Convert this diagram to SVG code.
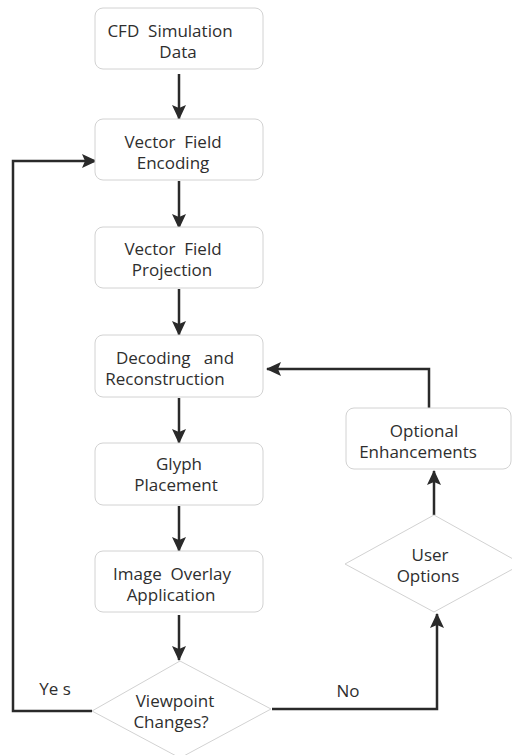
<svg xmlns="http://www.w3.org/2000/svg" width="512" height="755" viewBox="0 0 512 755">
  <style>
    .box { fill: #ffffff; stroke: #d2d2d2; stroke-width: 1; }
    .dia { fill: #ffffff; stroke: #d2d2d2; stroke-width: 1; }
    .lbl { font-family: "Open Sans", "Noto Sans", "DejaVu Sans", sans-serif; font-size: 17px; fill: #2e2e2e; text-anchor: middle; }
    .edge { fill: none; stroke: #2a2a2a; stroke-width: 2.5; }
  </style>
  <defs>
    <marker id="arrow" viewBox="0 0 15 14" refX="14" refY="7" markerWidth="15" markerHeight="14" markerUnits="userSpaceOnUse" orient="auto">
      <path d="M0,0 L15,7 L0,14 L3,7 Z" fill="#2a2a2a"/>
    </marker>
  </defs>
  <rect width="512" height="755" fill="#ffffff"/>

  <!-- connectors -->
  <g id="connectors">
    <line class="edge" x1="179" y1="74" x2="179" y2="119" marker-end="url(#arrow)"/>
    <line class="edge" x1="179" y1="181" x2="179" y2="228" marker-end="url(#arrow)"/>
    <line class="edge" x1="179" y1="289" x2="179" y2="335" marker-end="url(#arrow)"/>
    <line class="edge" x1="179" y1="398" x2="179" y2="443" marker-end="url(#arrow)"/>
    <line class="edge" x1="179" y1="506" x2="179" y2="551" marker-end="url(#arrow)"/>
    <line class="edge" x1="179" y1="615" x2="179" y2="660" marker-end="url(#arrow)"/>
    <!-- Yes: back to encoding -->
    <polyline class="edge" points="92,711 13,711 13,161 96,161" marker-end="url(#arrow)"/>
    <!-- No: to user options -->
    <polyline class="edge" points="272,709 437,709 437,614" marker-end="url(#arrow)"/>
    <!-- user options to enhancements -->
    <line class="edge" x1="434" y1="515" x2="434" y2="471" marker-end="url(#arrow)"/>
    <!-- enhancements back to decoding -->
    <polyline class="edge" points="429,408 429,369 267,369" marker-end="url(#arrow)"/>
    <text class="lbl" x="55" y="695" xml:space="preserve">Ye s</text>
    <text class="lbl" x="348" y="697">No</text>
  </g>

  <g id="cfd-data">
    <rect class="box" x="95" y="8" width="168" height="61" rx="8"/>
    <text class="lbl" x="170" y="37" xml:space="preserve">CFD  Simulation</text>
    <text class="lbl" x="178" y="58">Data</text>
  </g>

  <g id="vf-encoding">
    <rect class="box" x="95" y="119" width="168" height="61" rx="8"/>
    <text class="lbl" x="173" y="148" xml:space="preserve">Vector  Field</text>
    <text class="lbl" x="173" y="169">Encoding</text>
  </g>

  <g id="vf-projection">
    <rect class="box" x="95" y="227" width="168" height="61" rx="8"/>
    <text class="lbl" x="173" y="255" xml:space="preserve">Vector  Field</text>
    <text class="lbl" x="172" y="276">Projection</text>
  </g>

  <g id="decoding">
    <rect class="box" x="95" y="335" width="168" height="62" rx="8"/>
    <text class="lbl" x="175" y="364" xml:space="preserve">Decoding   and</text>
    <text class="lbl" x="165" y="385">Reconstruction</text>
  </g>

  <g id="glyph-placement">
    <rect class="box" x="95" y="443" width="168" height="62" rx="8"/>
    <text class="lbl" x="179" y="470">Glyph</text>
    <text class="lbl" x="176" y="491">Placement</text>
  </g>

  <g id="image-overlay">
    <rect class="box" x="95" y="551" width="168" height="61" rx="8"/>
    <text class="lbl" x="172" y="580" xml:space="preserve">Image  Overlay</text>
    <text class="lbl" x="171" y="601">Application</text>
  </g>

  <g id="viewpoint">
    <polygon class="dia" points="180,661 271,709 180,758 92,711"/>
    <text class="lbl" x="175" y="707">Viewpoint</text>
    <text class="lbl" x="171" y="728">Changes?</text>
  </g>

  <g id="user-options">
    <polygon class="dia" points="434,515 522,564 434,612 345,564"/>
    <text class="lbl" x="430" y="561">User</text>
    <text class="lbl" x="428" y="582">Options</text>
  </g>

  <g id="enhancements">
    <rect class="box" x="346" y="408" width="165" height="61" rx="8"/>
    <text class="lbl" x="424" y="437">Optional</text>
    <text class="lbl" x="418" y="458">Enhancements</text>
  </g>
</svg>
